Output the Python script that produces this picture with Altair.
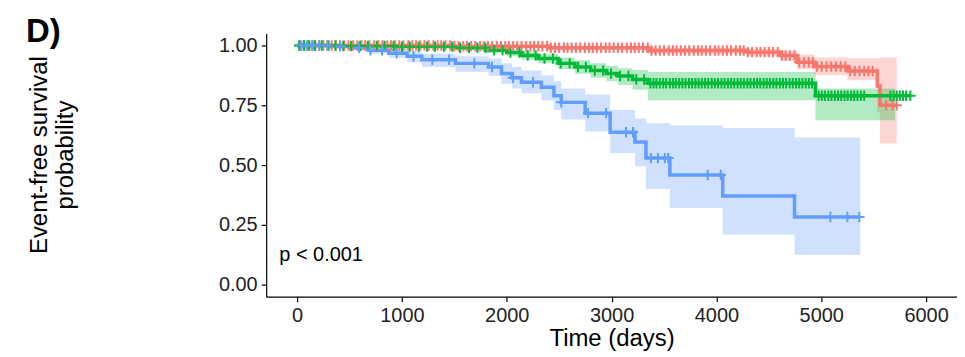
import altair as alt
import pandas as pd

# ---------------- data ----------------
groups = ["Low", "Intermediate", "High"]
colors = ["#F8766D", "#00BA38", "#619CFF"]

# Red group (step curve + 95% CI)
red_t = [0, 1500, 2400, 3347, 4298, 4612, 4770, 4935, 5250, 5535, 5560]
red_s = [1.0, 0.997, 0.99, 0.979, 0.972, 0.958, 0.93, 0.912, 0.893, 0.83, 0.75]
red_lo = [1.0, 0.99, 0.98, 0.965, 0.955, 0.935, 0.9, 0.875, 0.854, 0.72, 0.59]
red_hi = [1.0, 1.0, 0.997, 0.99, 0.985, 0.978, 0.962, 0.95, 0.946, 0.946, 0.95]
red_end = 5720
red_ci_end = 5720
red_censor = [25, 70, 105, 140, 175, 210, 250, 290, 330, 370, 410, 450, 490, 535,
              575, 615, 650, 690, 735, 775, 815, 860, 895, 935, 975, 1015, 1060,
              1100, 1135, 1175, 1215, 1255, 1300, 1340, 1375, 1415, 1460, 1500,
              1540, 1585, 1620, 1660, 1700, 1745, 1780, 1820, 1860, 1905, 1945,
              1985, 2020, 2060, 2100, 2140, 2185, 2225, 2260, 2300, 2340, 2385,
              2420, 2460, 2500, 2545, 2580, 2620, 2660, 2700, 2745, 2785, 2820,
              2860, 2900, 2945, 2980, 3020, 3060, 3100, 3145, 3185, 3220, 3260,
              3300, 3345, 3380, 3420, 3460, 3500, 3545, 3585, 3620, 3660, 3700,
              3740, 3785, 3825, 3860, 3900, 3940, 3985, 4020, 4060, 4100, 4140,
              4185, 4225, 4260, 4300, 4340, 4385, 4420, 4460, 4500, 4540, 4585,
              4625, 4660, 4700, 4745, 4790, 4835, 4880, 4920, 4960, 5005, 5050,
              5095, 5140, 5185, 5230, 5275, 5320, 5365, 5410, 5450, 5490, 5620,
              5680, 5720]

# Green group
green_t = [0, 400, 940, 1510, 1800, 2000, 2140, 2300, 2491, 2650, 2800, 2950,
           3062, 3200, 3347, 4945]
green_s = [1.0, 0.998, 0.995, 0.99, 0.98, 0.97, 0.958, 0.945, 0.925, 0.91, 0.895,
           0.883, 0.872, 0.858, 0.842, 0.79]
green_lo = [1.0, 0.995, 0.99, 0.982, 0.968, 0.955, 0.94, 0.925, 0.9, 0.882, 0.865,
            0.85, 0.835, 0.815, 0.771, 0.6875]
green_hi = [1.0, 1.0, 0.999, 0.996, 0.99, 0.983, 0.975, 0.965, 0.95, 0.938, 0.926,
            0.915, 0.905, 0.897, 0.889, 0.82]
green_end = 5850
green_ci_end = 5705
green_censor = [20, 65, 115, 170, 235, 300, 365, 440, 515, 600, 675, 760, 835, 920,
                1000, 1075, 1160, 1240, 1315, 1400, 1480, 1555, 1640, 1720, 1795,
                1880, 1960, 2035, 2120, 2200, 2275, 2360, 2440, 2515, 2600, 2680,
                2755, 2840, 2920, 2995, 3080, 3160, 3235, 3310,
                3370, 3400, 3428, 3460, 3492, 3520, 3555, 3585, 3612, 3645, 3675,
                3705, 3738, 3768, 3800, 3830, 3860, 3892, 3922, 3955, 3985, 4015,
                4048, 4078, 4110, 4140, 4170, 4202, 4232, 4262, 4295, 4325, 4358,
                4388, 4418, 4450, 4480, 4510, 4542, 4572, 4605, 4635, 4665, 4698,
                4728, 4760, 4790, 4820, 4852, 4882, 4912,
                4975, 5005, 5035, 5068, 5098, 5130, 5160, 5190, 5222, 5252, 5285,
                5315, 5345, 5378, 5410,
                5660, 5690, 5720, 5750, 5780, 5810, 5850]

# Blue group
blue_t = [0, 300, 500, 685, 875, 1050, 1190, 1510, 1826, 1950, 2050, 2140, 2330,
          2450, 2520, 2748, 2986, 3223, 3328, 3556, 4060, 4745]
blue_s = [1.0, 0.996, 0.99, 0.98, 0.967, 0.955, 0.94, 0.925, 0.91, 0.883, 0.865,
          0.846, 0.825, 0.79, 0.762, 0.717, 0.6375, 0.596, 0.529, 0.458, 0.371, 0.283]
blue_lo = [1.0, 0.99, 0.98, 0.965, 0.948, 0.93, 0.91, 0.89, 0.872, 0.84, 0.82,
           0.8, 0.77, 0.73, 0.69, 0.64, 0.55, 0.495, 0.40, 0.32, 0.21, 0.125]
blue_hi = [1.0, 1.0, 0.998, 0.995, 0.985, 0.975, 0.965, 0.955, 0.945, 0.925, 0.91,
           0.895, 0.875, 0.85, 0.82, 0.795, 0.73, 0.695, 0.675, 0.665, 0.655, 0.615]
blue_end = 5372
blue_ci_end = 5372
blue_censor = [40, 95, 150, 210, 290, 410, 590, 700, 810, 950, 1110, 1290, 1450,
               1690, 1860, 2060, 2250, 2520, 2776, 2948, 3138, 3204, 3375, 3442,
               3508, 3540, 3917, 4041, 5087, 5249, 5363]

x_ticks = [0, 1000, 2000, 3000, 4000, 5000, 6000]
y_ticks = [0.0, 0.25, 0.5, 0.75, 1.0]
p_label = "p < 0.001"

# ---------------- build tables ----------------
def step_at(ts, vs, t):
    v = vs[0]
    for ti, vi in zip(ts, vs):
        if ti <= t:
            v = vi
    return v

series = [
    (groups[0], red_t, red_s, red_lo, red_hi, red_end, red_ci_end, red_censor),
    (groups[1], green_t, green_s, green_lo, green_hi, green_end, green_ci_end, green_censor),
    (groups[2], blue_t, blue_s, blue_lo, blue_hi, blue_end, blue_ci_end, blue_censor),
]

line_rows, ci_rows, cen_rows = [], [], []
for g, ts, ss, lo, hi, end, ci_end, cen in series:
    for t, s in zip(ts + [end], ss + [ss[-1]]):
        line_rows.append({"group": g, "time": t, "surv": s})
    for t, l, h in zip(ts + [ci_end], lo + [lo[-1]], hi + [hi[-1]]):
        ci_rows.append({"group": g, "time": t, "lo": l, "hi": h})
    for t in cen:
        cen_rows.append({"group": g, "time": t, "surv": step_at(ts, ss, t)})

line_df = pd.DataFrame(line_rows)
ci_df = pd.DataFrame(ci_rows)
cen_df = pd.DataFrame(cen_rows)

FONT = "Liberation Sans"
color = alt.Color("group:N", scale=alt.Scale(domain=groups, range=colors), legend=None)
xs = alt.Scale(domain=[-295, 6295], nice=False, zero=False)
ys = alt.Scale(domain=[-0.05, 1.05], nice=False, zero=False)

x_axis = alt.Axis(values=x_ticks, title="Time (days)", format="d", grid=False,
                  titleFontSize=24, titleFontWeight="normal", titleColor="#000",
                  titlePadding=1, labelPadding=4)
y_axis = alt.Axis(values=y_ticks, title=None, format=".2f", grid=False, labelPadding=4)

ribbon = alt.Chart(ci_df).mark_area(interpolate="step-after", opacity=0.3).encode(
    x=alt.X("time:Q", scale=xs, axis=x_axis),
    y=alt.Y("lo:Q", scale=ys, axis=y_axis),
    y2="hi:Q",
    color=color,
    detail="group:N",
)

lines = alt.Chart(line_df).mark_line(interpolate="step-after", strokeWidth=3.5).encode(
    x=alt.X("time:Q", scale=xs),
    y=alt.Y("surv:Q", scale=ys),
    color=color,
    detail="group:N",
)

censors = alt.Chart(cen_df).mark_point(
    shape="M-1,0L1,0M0,-1L0,1", filled=False, size=110, strokeWidth=2, opacity=1
).encode(
    x=alt.X("time:Q", scale=xs),
    y=alt.Y("surv:Q", scale=ys),
    color=color,
)

ptext = alt.Chart(pd.DataFrame({"t": [-170], "s": [0.125], "lab": [p_label]})).mark_text(
    align="left", baseline="middle", fontSize=20, font=FONT, color="#000"
).encode(x=alt.X("t:Q", scale=xs), y=alt.Y("s:Q", scale=ys), text="lab:N")

ytitle1 = alt.Chart(pd.DataFrame({"lab": ["Event-free survival"]})).mark_text(
    angle=270, align="center", baseline="middle", fontSize=24, font=FONT, color="#000"
).encode(x=alt.value(-227), y=alt.value(122), text="lab:N")
ytitle2 = alt.Chart(pd.DataFrame({"lab": ["probability"]})).mark_text(
    angle=270, align="center", baseline="middle", fontSize=24, font=FONT, color="#000"
).encode(x=alt.value(-201), y=alt.value(122), text="lab:N")

panel = alt.Chart(pd.DataFrame({"lab": ["D)"]})).mark_text(
    align="left", baseline="alphabetic", fontSize=33, fontWeight="bold", font=FONT, color="#000"
).encode(x=alt.value(-241), y=alt.value(9), text="lab:N")

chart = alt.layer(ribbon, lines, censors, ptext, ytitle1, ytitle2, panel).properties(
    width=693, height=264,
    autosize=alt.AutoSizeParams(type="none"),
    padding={"left": 259, "top": 25, "right": 0, "bottom": 58},
).configure_view(stroke=None).configure_axis(
    domainColor="#000", domainWidth=1.2, tickColor="#000", tickWidth=1.2, tickSize=5,
    labelFont=FONT, titleFont=FONT, labelFontSize=20, labelColor="#222",
)

chart.save("out.html", embed_options={"renderer": "svg", "actions": False})
